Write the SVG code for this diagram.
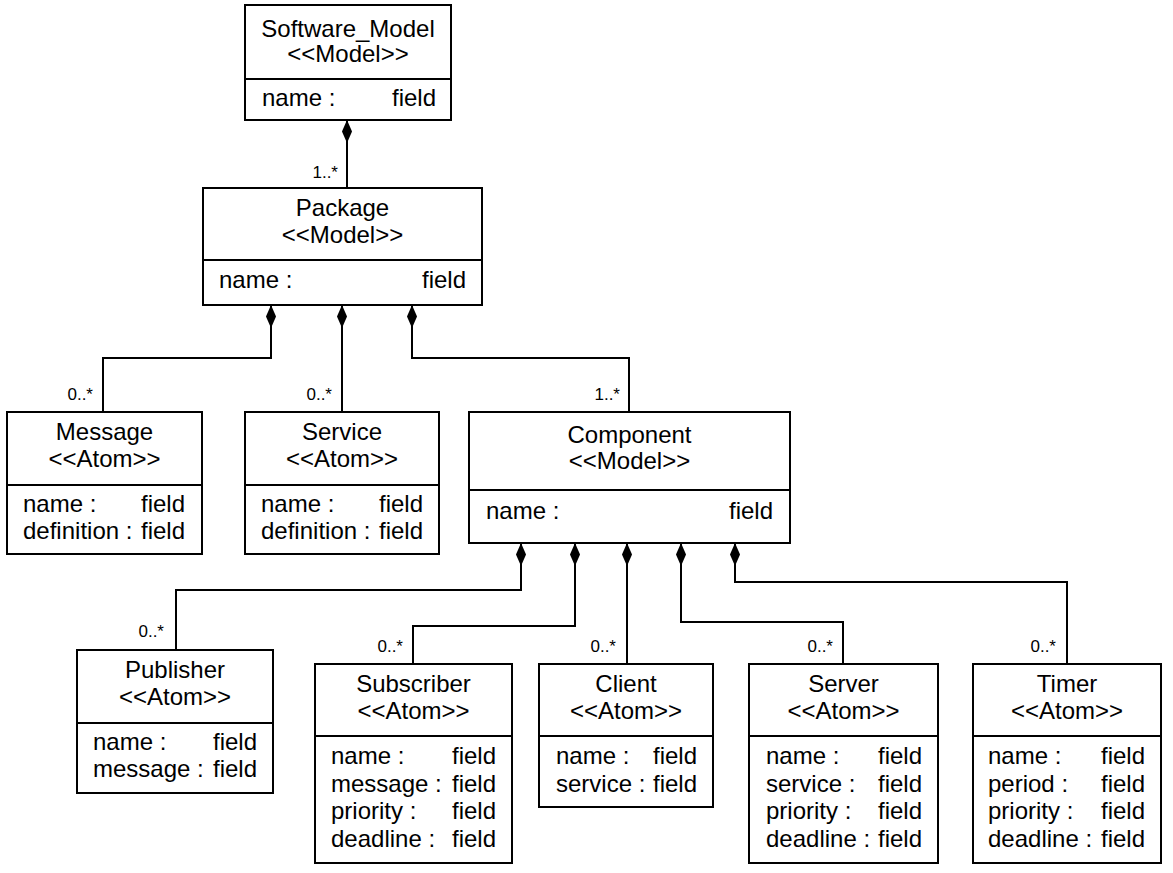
<svg xmlns="http://www.w3.org/2000/svg" width="1173" height="873" viewBox="0 0 1173 873">
  <style>
    .box { fill: #ffffff; stroke: #000000; stroke-width: 2; }
    .sep { stroke: #000000; stroke-width: 2; }
    .conn { fill: none; stroke: #000000; stroke-width: 2; }
    text { font-family: "Liberation Sans", Arial, sans-serif; font-size: 24px; fill: #000000; }
    .c { text-anchor: middle; }
    .e { text-anchor: end; }
    .mult { font-size: 17px; text-anchor: end; }
  </style>
  <defs>
    <!-- filled composition diamond, placed at the start of each connector -->
    <marker id="diamond" viewBox="0 0 24 12" refX="0" refY="6" markerWidth="24" markerHeight="12" markerUnits="userSpaceOnUse" orient="auto">
      <path d="M0,6 L11.5,1 L23,6 L11.5,11 Z" fill="#000000"/>
    </marker>
  </defs>
  <rect width="1173" height="873" fill="#ffffff"/>

  <!-- composition connectors -->
  <g id="connectors">
    <path class="conn" marker-start="url(#diamond)" d="M347,120 V188"/>
    <path class="conn" marker-start="url(#diamond)" d="M271,305 V358 H103 V412"/>
    <path class="conn" marker-start="url(#diamond)" d="M342,305 V412"/>
    <path class="conn" marker-start="url(#diamond)" d="M412,305 V358 H629 V412"/>
    <path class="conn" marker-start="url(#diamond)" d="M521,543 V590 H176 V650"/>
    <path class="conn" marker-start="url(#diamond)" d="M575,543 V626 H413 V664"/>
    <path class="conn" marker-start="url(#diamond)" d="M627,543 V664"/>
    <path class="conn" marker-start="url(#diamond)" d="M681,543 V622 H843 V664"/>
    <path class="conn" marker-start="url(#diamond)" d="M735,543 V582 H1067 V664"/>
    <text class="mult" x="338" y="178">1..*</text>
    <text class="mult" x="93" y="400">0..*</text>
    <text class="mult" x="332" y="400">0..*</text>
    <text class="mult" x="620" y="400">1..*</text>
    <text class="mult" x="164" y="637">0..*</text>
    <text class="mult" x="403" y="652">0..*</text>
    <text class="mult" x="616" y="652">0..*</text>
    <text class="mult" x="833" y="652">0..*</text>
    <text class="mult" x="1056" y="652">0..*</text>
  </g>

  <g id="software_model">
    <rect class="box" x="245" y="5" width="206" height="115"/>
    <line class="sep" x1="245" y1="79" x2="451" y2="79"/>
    <text class="c" x="348" y="37">Software_Model</text>
    <text class="c" x="348" y="62">&lt;&lt;Model&gt;&gt;</text>
    <text x="262" y="106">name :</text>
    <text class="e" x="436" y="106">field</text>
  </g>

  <g id="package">
    <rect class="box" x="203" y="188" width="279" height="117"/>
    <line class="sep" x1="203" y1="260" x2="482" y2="260"/>
    <text class="c" x="342.5" y="216">Package</text>
    <text class="c" x="342.5" y="243">&lt;&lt;Model&gt;&gt;</text>
    <text x="219" y="288">name :</text>
    <text class="e" x="466" y="288">field</text>
  </g>

  <g id="message">
    <rect class="box" x="7" y="412" width="195" height="142"/>
    <line class="sep" x1="7" y1="485" x2="202" y2="485"/>
    <text class="c" x="104.5" y="440">Message</text>
    <text class="c" x="104.5" y="467">&lt;&lt;Atom&gt;&gt;</text>
    <text x="23" y="512">name :</text>
    <text class="e" x="185" y="512">field</text>
    <text x="23" y="539">definition :</text>
    <text class="e" x="185" y="539">field</text>
  </g>

  <g id="service">
    <rect class="box" x="245" y="412" width="194" height="142"/>
    <line class="sep" x1="245" y1="485" x2="439" y2="485"/>
    <text class="c" x="342" y="440">Service</text>
    <text class="c" x="342" y="467">&lt;&lt;Atom&gt;&gt;</text>
    <text x="261" y="512">name :</text>
    <text class="e" x="423" y="512">field</text>
    <text x="261" y="539">definition :</text>
    <text class="e" x="423" y="539">field</text>
  </g>

  <g id="component">
    <rect class="box" x="469" y="412" width="321" height="131"/>
    <line class="sep" x1="469" y1="490" x2="790" y2="490"/>
    <text class="c" x="629.5" y="443">Component</text>
    <text class="c" x="629.5" y="469">&lt;&lt;Model&gt;&gt;</text>
    <text x="486" y="519">name :</text>
    <text class="e" x="773" y="519">field</text>
  </g>

  <g id="publisher">
    <rect class="box" x="77" y="650" width="196" height="143"/>
    <line class="sep" x1="77" y1="723" x2="273" y2="723"/>
    <text class="c" x="175" y="678">Publisher</text>
    <text class="c" x="175" y="705">&lt;&lt;Atom&gt;&gt;</text>
    <text x="93" y="750">name :</text>
    <text class="e" x="257" y="750">field</text>
    <text x="93" y="777">message :</text>
    <text class="e" x="257" y="777">field</text>
  </g>

  <g id="subscriber">
    <rect class="box" x="315" y="664" width="197" height="199"/>
    <line class="sep" x1="315" y1="736" x2="512" y2="736"/>
    <text class="c" x="413.5" y="692">Subscriber</text>
    <text class="c" x="413.5" y="719">&lt;&lt;Atom&gt;&gt;</text>
    <text x="331" y="764">name :</text>
    <text class="e" x="496" y="764">field</text>
    <text x="331" y="792">message :</text>
    <text class="e" x="496" y="792">field</text>
    <text x="331" y="819">priority :</text>
    <text class="e" x="496" y="819">field</text>
    <text x="331" y="847">deadline :</text>
    <text class="e" x="496" y="847">field</text>
  </g>

  <g id="client">
    <rect class="box" x="539" y="664" width="174" height="143"/>
    <line class="sep" x1="539" y1="736" x2="713" y2="736"/>
    <text class="c" x="626" y="692">Client</text>
    <text class="c" x="626" y="719">&lt;&lt;Atom&gt;&gt;</text>
    <text x="556" y="764">name :</text>
    <text class="e" x="697" y="764">field</text>
    <text x="556" y="792">service :</text>
    <text class="e" x="697" y="792">field</text>
  </g>

  <g id="server">
    <rect class="box" x="749" y="664" width="189" height="199"/>
    <line class="sep" x1="749" y1="736" x2="938" y2="736"/>
    <text class="c" x="843.5" y="692">Server</text>
    <text class="c" x="843.5" y="719">&lt;&lt;Atom&gt;&gt;</text>
    <text x="766" y="764">name :</text>
    <text class="e" x="922" y="764">field</text>
    <text x="766" y="792">service :</text>
    <text class="e" x="922" y="792">field</text>
    <text x="766" y="819">priority :</text>
    <text class="e" x="922" y="819">field</text>
    <text x="766" y="847">deadline :</text>
    <text class="e" x="922" y="847">field</text>
  </g>

  <g id="timer">
    <rect class="box" x="973" y="664" width="188" height="199"/>
    <line class="sep" x1="973" y1="736" x2="1161" y2="736"/>
    <text class="c" x="1067" y="692">Timer</text>
    <text class="c" x="1067" y="719">&lt;&lt;Atom&gt;&gt;</text>
    <text x="988" y="764">name :</text>
    <text class="e" x="1145" y="764">field</text>
    <text x="988" y="792">period :</text>
    <text class="e" x="1145" y="792">field</text>
    <text x="988" y="819">priority :</text>
    <text class="e" x="1145" y="819">field</text>
    <text x="988" y="847">deadline :</text>
    <text class="e" x="1145" y="847">field</text>
  </g>
</svg>
